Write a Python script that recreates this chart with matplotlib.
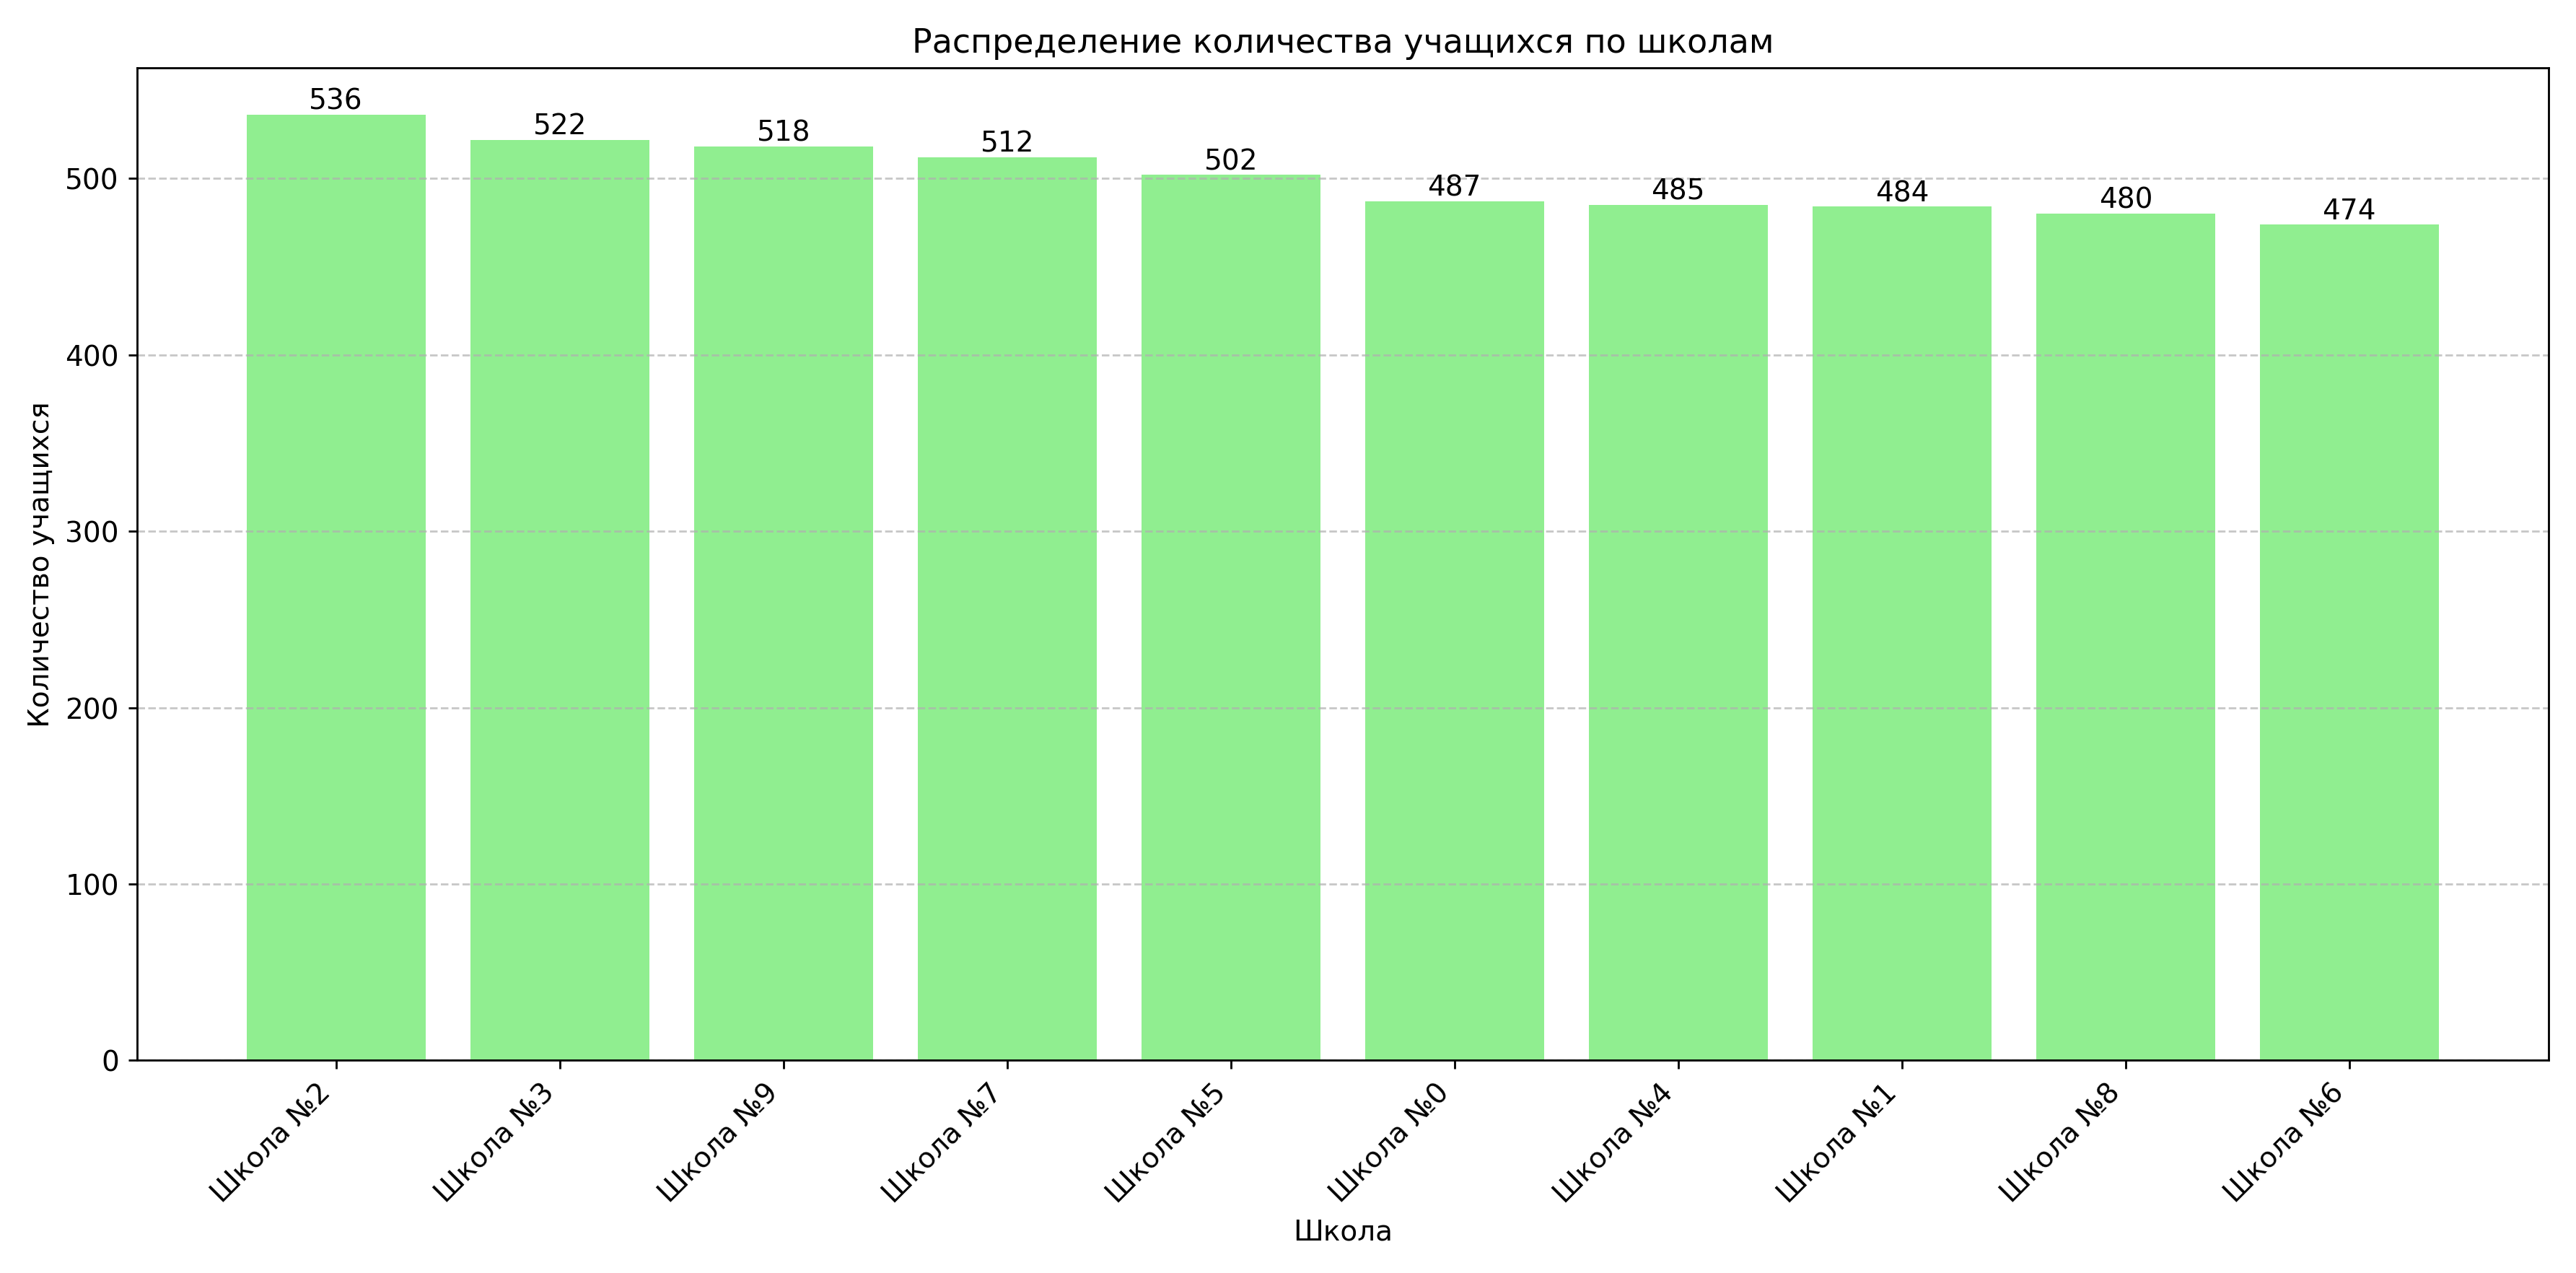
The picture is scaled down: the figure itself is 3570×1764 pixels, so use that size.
import matplotlib.pyplot as plt

schools = ['Школа №2', 'Школа №3', 'Школа №9', 'Школа №7', 'Школа №5',
           'Школа №0', 'Школа №4', 'Школа №1', 'Школа №8', 'Школа №6']
students = [536, 522, 518, 512, 502, 487, 485, 484, 480, 474]

fig, ax = plt.subplots(figsize=(14, 6.92), dpi=255)
bars = ax.bar(schools, students, color='lightgreen')
for bar, v in zip(bars, students):
    ax.text(bar.get_x() + bar.get_width()/2, v, str(v), ha='center', va='bottom', fontsize=11)
ax.set_title('Распределение количества учащихся по школам', fontsize=13)
ax.set_xlabel('Школа', fontsize=11)
ax.set_ylabel('Количество учащихся', fontsize=11)
ax.grid(axis='y', linestyle='--', alpha=0.7)
ax.tick_params(labelsize=11)
plt.xticks(rotation=45, ha='right')
plt.tight_layout()
plt.savefig('out.png')
